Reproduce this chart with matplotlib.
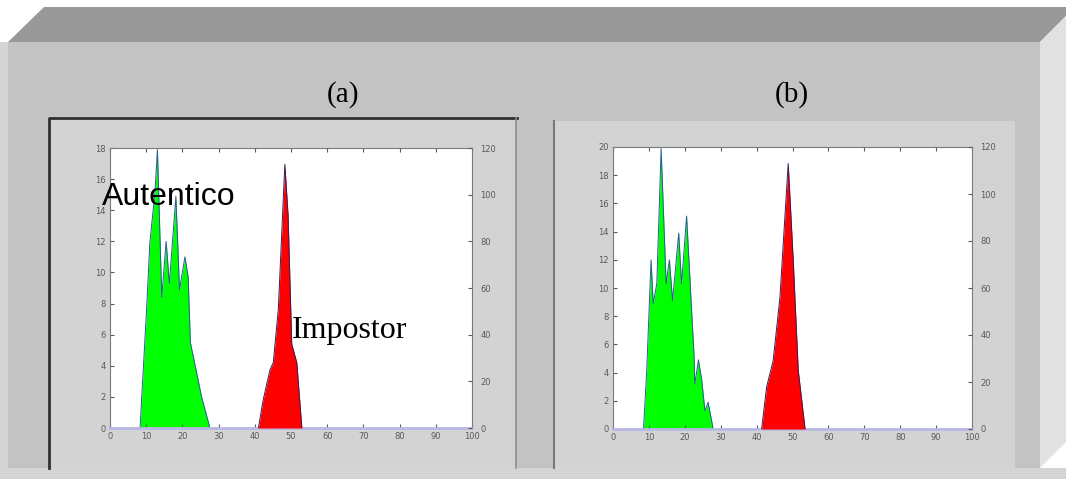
import matplotlib
matplotlib.use('Agg')
import matplotlib.pyplot as plt
from matplotlib.patches import Polygon
from matplotlib.lines import Line2D

# panel (a) data - autentico (left axis) / impostor (right axis)
auth_a_x = [8.3, 10.1, 11.0, 12.4, 13.1, 14.3, 15.5, 16.4, 18.2, 19.2, 20.7, 21.6, 22.2, 23.0, 25.3, 27.6]
auth_a_y = [0, 7.6, 11.9, 15.1, 17.9, 8.4, 12.0, 9.3, 14.9, 8.9, 11.0, 9.7, 5.5, 4.6, 2.0, 0]
imp_a_x = [41.0, 42.3, 44.2, 45.1, 46.5, 48.3, 49.2, 50.2, 51.6, 53.0]
imp_a_y = [0, 12, 25, 28, 51, 113, 91, 36, 28, 0]

# panel (b) data
auth_b_x = [8.5, 9.4, 10.6, 11.2, 12.2, 13.4, 14.8, 15.7, 16.6, 18.3, 19.1, 20.5, 21.9, 22.6, 22.8, 23.8, 24.7, 25.6, 26.5, 27.9]
auth_b_y = [0, 4.2, 12.0, 8.9, 10.3, 19.9, 10.3, 12.0, 9.1, 13.9, 10.3, 15.1, 8.4, 5.1, 3.2, 4.9, 3.5, 1.3, 1.9, 0]
imp_b_x = [41.4, 42.8, 44.6, 46.5, 48.8, 50.2, 51.6, 53.5]
imp_b_y = [0, 18, 29, 56, 113, 72, 25, 0]

x_ticks = [0, 10, 20, 30, 40, 50, 60, 70, 80, 90, 100]
right_ticks = [0, 20, 40, 60, 80, 100, 120]
labels = ['(a)', '(b)']

W, H = 1066, 479
fig = plt.figure(figsize=(W / 100, H / 100), dpi=100)
fig.patch.set_facecolor('white')


def P(x, y):
    # pixel (from top-left) -> figure fraction
    return (x / W, 1 - y / H)


def poly(pts, color, z=0):
    fig.patches.append(Polygon([P(*p) for p in pts], closed=True, facecolor=color,
                               edgecolor='none', transform=fig.transFigure, zorder=z))


def line(pts, color, lw):
    xs = [P(*p)[0] for p in pts]
    ys = [P(*p)[1] for p in pts]
    fig.lines.append(Line2D(xs, ys, color=color, lw=lw, transform=fig.transFigure, zorder=3))


# 3d box background
poly([(0, 42), (8, 42), (8, 479), (0, 479)], '#d4d4d4')
poly([(0, 468), (W, 468), (W, 479), (0, 479)], '#d4d4d4')
poly([(8, 42), (44, 7), (1075, 7), (1040, 42)], '#999999', 1)
poly([(8, 42), (1040, 42), (1040, 468), (8, 468)], '#c3c3c3', 1)
poly([(1040, 42), (1075, 7), (1075, 433), (1040, 468)], '#e1e1e1', 1)

# screenshot panels
poly([(49, 118), (517, 118), (517, 468), (49, 468)], '#d3d3d3', 2)
poly([(554, 121), (1015, 121), (1015, 468), (554, 468)], '#d3d3d3', 2)
line([(49, 468), (49, 118), (517, 118)], '#303030', 2)
line([(516, 118), (516, 468)], '#8c8c8c', 1.2)
line([(554, 121), (554, 468)], '#7a7a7a', 1.5)

for lab, cx in zip(labels, [343, 792]):
    fig.text(*P(cx, 95), lab, ha='center', va='center', fontsize=21,
             family='Liberation Serif', color='black')


def panel(box, ax_x, ax_y, ylim, yticks, bx, by):
    l, t, r, b = box
    ax = fig.add_axes([l / W, 1 - b / H, (r - l) / W, (b - t) / H])
    ax.set_zorder(5)
    ax.set_facecolor('white')
    ax.fill_between(ax_x, ax_y, 0, color='#00ff00', lw=0)
    ax.plot(ax_x, ax_y, color='#2a5a9a', lw=0.7)
    ax.set_xlim(0, 100)
    ax.set_ylim(*ylim)
    ax.set_xticks(x_ticks)
    ax.set_yticks(yticks)
    ax.tick_params(direction='in', length=3, top=True, labelsize=6, colors='#5a5a5a',
                   pad=3)
    for s in ax.spines.values():
        s.set_color('#7a7a7a')
        s.set_linewidth(0.8)
    ax.spines['bottom'].set_color('#b8b8e4')
    ax.spines['bottom'].set_linewidth(2)

    ax2 = ax.twinx()
    ax2.set_zorder(6)
    ax2.fill_between(bx, by, 0, color='#ff0000', lw=0)
    ax2.plot(bx, by, color='#3a1a5a', lw=0.7)
    ax2.set_ylim(0, 120)
    ax2.set_yticks(right_ticks)
    ax2.tick_params(direction='in', length=3, labelsize=6, colors='#5a5a5a', pad=6)
    for s in ax2.spines.values():
        s.set_visible(False)
    return ax, ax2


panel((110, 148, 472, 428), auth_a_x, auth_a_y, (0, 18), list(range(0, 19, 2)), imp_a_x, imp_a_y)
panel((613, 147, 972, 429), auth_b_x, auth_b_y, (0, 20), list(range(0, 21, 2)), imp_b_x, imp_b_y)

fig.text(*P(102, 205), 'Autentico', ha='left', va='baseline', fontsize=23,
         family='Liberation Sans', color='black', zorder=10)
fig.text(*P(292, 338), 'Impostor', ha='left', va='baseline', fontsize=23,
         family='Liberation Serif', color='black', zorder=10)

fig.savefig('out.png', dpi=100, facecolor=fig.get_facecolor())
